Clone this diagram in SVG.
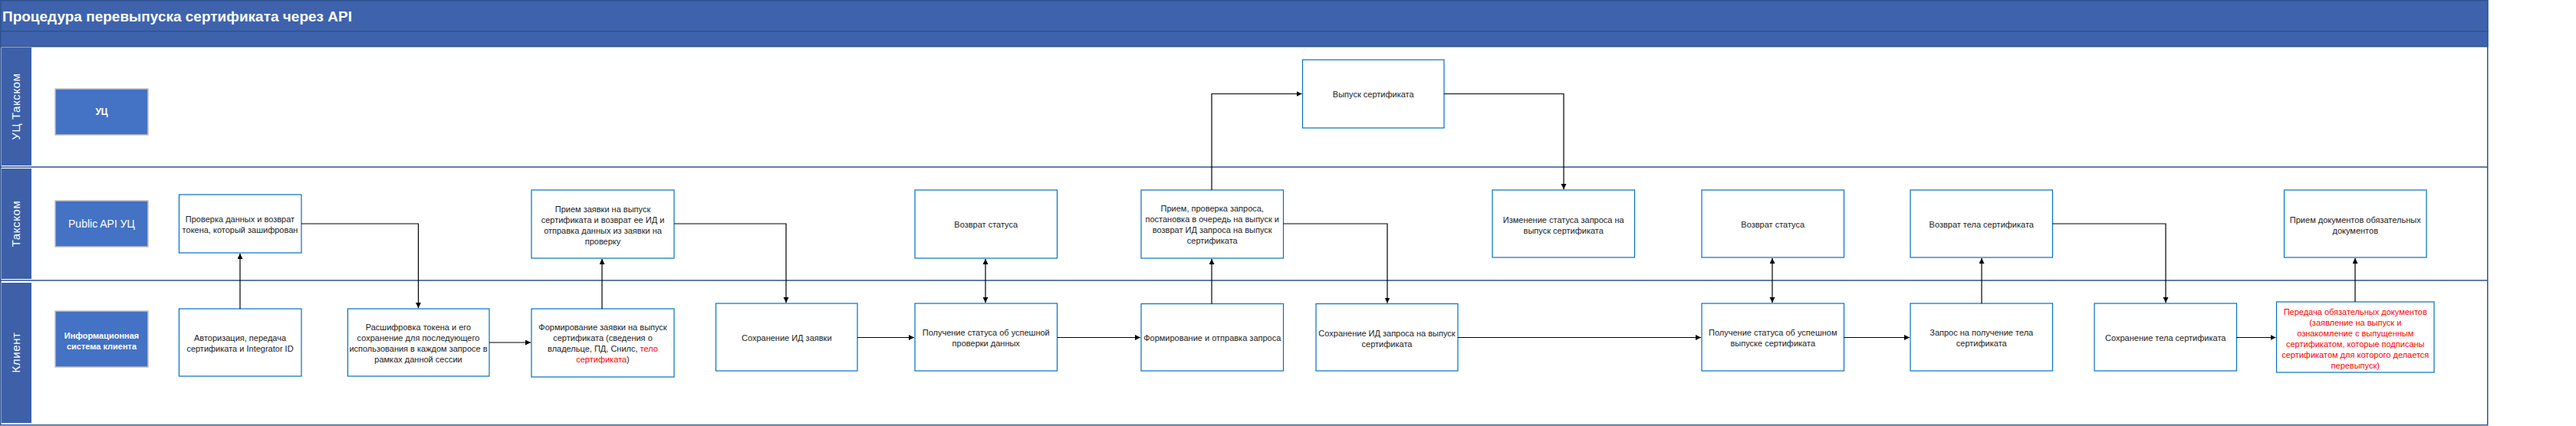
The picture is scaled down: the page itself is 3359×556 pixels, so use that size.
<svg xmlns="http://www.w3.org/2000/svg" width="3359" height="556" viewBox="0 0 3359 556">
<defs>
<style>
.hdr{fill:#3E63AC;stroke:#2F528F;stroke-width:1.5}
.lanelbl{fill:#3D60A9}
.lanetxt{font-family:'Liberation Sans',Arial,sans-serif;font-size:15px;fill:#fff;text-anchor:middle;letter-spacing:0.6px}
.role{fill:#4472C4;stroke:#BFBFBF;stroke-width:1.5}
.roletxt{font-family:'Liberation Sans',Arial,sans-serif;fill:#fff;text-anchor:middle}
.box{fill:#fff;stroke:#0070C0;stroke-width:1.2}
.t{font-family:'Liberation Sans',Arial,sans-serif;font-size:11px;fill:#222;text-anchor:middle}
.red{fill:#FF0000}
.lane{stroke:#2F528F;stroke-width:1.5;fill:none}
.c{fill:none;stroke:#000;stroke-width:1.2}
</style>
<marker id="ah" markerUnits="userSpaceOnUse" markerWidth="8" markerHeight="8" refX="7" refY="3.5" orient="auto-start-reverse">
<path d="M0,0 L7,3.5 L0,7 z" fill="#000"/>
</marker>
</defs>
<rect x="0" y="0" width="3359" height="556" fill="#fff"/>

<g id="pool">
<rect x="0.75" y="0.75" width="3243" height="554" fill="#fff" stroke="#2F528F" stroke-width="1.5"/>
<rect class="hdr" x="0.75" y="0.75" width="3243" height="40"/>
<rect class="hdr" x="0.75" y="40.75" width="3243" height="20"/>
<text x="3" y="28" font-family="'Liberation Sans',Arial,sans-serif" font-size="18" font-weight="bold" fill="#fff" textLength="456" lengthAdjust="spacingAndGlyphs">Процедура перевыпуска сертификата через API</text>
<line class="lane" x1="0" y1="218" x2="3244" y2="218"/>
<line class="lane" x1="0" y1="366" x2="3244" y2="366"/>
</g>

<g id="lane-uc">
<rect class="lanelbl" x="2" y="62" width="39" height="154"/>
<text class="lanetxt" transform="translate(26,139) rotate(-90)">УЦ Такском</text>
</g>
<g id="lane-taxcom">
<rect class="lanelbl" x="2" y="220" width="39" height="144"/>
<text class="lanetxt" transform="translate(26,292) rotate(-90)">Такском</text>
</g>
<g id="lane-client">
<rect class="lanelbl" x="2" y="369" width="39" height="183"/>
<text class="lanetxt" transform="translate(26,460) rotate(-90)">Клиент</text>
</g>

<g id="role-uc">
<rect class="role" x="72" y="116" width="121" height="60"/>
<text class="roletxt" x="132.5" y="150" font-size="12" font-weight="bold">УЦ</text>
</g>
<g id="role-api">
<rect class="role" x="72" y="262" width="121" height="60"/>
<text class="roletxt" x="132.5" y="297" font-size="14">Public API УЦ</text>
</g>
<g id="role-is">
<rect class="role" x="72" y="406" width="121" height="73"/>
<text class="roletxt" x="132.5" y="441.5" font-size="11" font-weight="bold">Информационная</text>
<text class="roletxt" x="132.5" y="455.5" font-size="11" font-weight="bold">система клиента</text>
</g>

<g id="n-check">
<rect class="box" x="233.5" y="254" width="159.5" height="76"/>
<text class="t" x="313" y="290">Проверка данных и возврат</text>
<text class="t" x="313" y="304">токена, который зашифрован</text>
</g>
<g id="n-auth">
<rect class="box" x="233.5" y="403" width="159.5" height="88"/>
<text class="t" x="313" y="445">Авторизация, передача</text>
<text class="t" x="313" y="459">сертификата и Integrator ID</text>
</g>
<g id="n-decrypt">
<rect class="box" x="453.5" y="403" width="184.5" height="88"/>
<text class="t" x="545.5" y="431">Расшифровка токена и его</text>
<text class="t" x="545.5" y="445">сохранение для последующего</text>
<text class="t" x="545.5" y="459">использования в каждом запросе в</text>
<text class="t" x="545.5" y="473">рамках данной сессии</text>
</g>
<g id="n-accept-app">
<rect class="box" x="693" y="248" width="186" height="89"/>
<text class="t" x="786" y="277">Прием заявки на выпуск</text>
<text class="t" x="786" y="291">сертификата и возврат ее ИД и</text>
<text class="t" x="786" y="305">отправка данных из заявки на</text>
<text class="t" x="786" y="319">проверку</text>
</g>
<g id="n-form-app">
<rect class="box" x="693" y="403" width="186" height="89"/>
<text class="t" x="786" y="431">Формирование заявки на выпуск</text>
<text class="t" x="786" y="445">сертификата (сведения о</text>
<text class="t" x="786" y="459">владельце, ПД, Снилс, <tspan class="red">тело</tspan></text>
<text class="t" x="786" y="473"><tspan class="red">сертификата</tspan>)</text>
</g>
<g id="n-save-app-id">
<rect class="box" x="933.5" y="396" width="184.5" height="88"/>
<text class="t" x="1025.75" y="445">Сохранение ИД заявки</text>
</g>
<g id="n-status1">
<rect class="box" x="1193" y="248" width="185.5" height="89"/>
<text class="t" x="1285.75" y="297">Возврат статуса</text>
</g>
<g id="n-get-status1">
<rect class="box" x="1193" y="396" width="185.5" height="88"/>
<text class="t" x="1285.75" y="438">Получение статуса об успешной</text>
<text class="t" x="1285.75" y="452">проверки данных</text>
</g>
<g id="n-issue">
<rect class="box" x="1698.5" y="78" width="184.5" height="89"/>
<text class="t" x="1790.75" y="127">Выпуск сертификата</text>
</g>
<g id="n-accept-req">
<rect class="box" x="1488" y="248" width="185.5" height="89"/>
<text class="t" x="1580.75" y="276">Прием, проверка запроса,</text>
<text class="t" x="1580.75" y="290">постановка в очередь на выпуск и</text>
<text class="t" x="1580.75" y="304">возврат ИД запроса на выпуск</text>
<text class="t" x="1580.75" y="318">сертификата</text>
</g>
<g id="n-form-req">
<rect class="box" x="1488" y="396.5" width="185.5" height="87.5"/>
<text class="t" x="1580.75" y="445">Формирование и отправка запроса</text>
</g>
<g id="n-save-req-id">
<rect class="box" x="1716" y="396.5" width="185" height="87.5"/>
<text class="t" x="1808.5" y="438.5">Сохранение ИД запроса на выпуск</text>
<text class="t" x="1808.5" y="452.5">сертификата</text>
</g>
<g id="n-change-status">
<rect class="box" x="1946" y="248" width="185.5" height="88"/>
<text class="t" x="2038.75" y="290.5">Изменение статуса запроса на</text>
<text class="t" x="2038.75" y="304.5">выпуск сертификата</text>
</g>
<g id="n-status2">
<rect class="box" x="2219" y="248" width="185.5" height="88"/>
<text class="t" x="2311.75" y="297">Возврат статуса</text>
</g>
<g id="n-get-status2">
<rect class="box" x="2219" y="396" width="185.5" height="88"/>
<text class="t" x="2311.75" y="438">Получение статуса об успешном</text>
<text class="t" x="2311.75" y="452">выпуске сертификата</text>
</g>
<g id="n-return-body">
<rect class="box" x="2491" y="248" width="185.5" height="88"/>
<text class="t" x="2583.75" y="297">Возврат тела сертификата</text>
</g>
<g id="n-req-body">
<rect class="box" x="2491" y="396" width="185.5" height="88"/>
<text class="t" x="2583.75" y="438">Запрос на получение тела</text>
<text class="t" x="2583.75" y="452">сертификата</text>
</g>
<g id="n-save-body">
<rect class="box" x="2731" y="396" width="185.5" height="88"/>
<text class="t" x="2823.75" y="445">Сохранение тела сертификата</text>
</g>
<g id="n-accept-docs">
<rect class="box" x="2978.5" y="248" width="185.5" height="88"/>
<text class="t" x="3071.25" y="290.5">Прием документов обязательных</text>
<text class="t" x="3071.25" y="304.5">документов</text>
</g>
<g id="n-send-docs">
<rect class="box" x="2968.5" y="394" width="205.5" height="92"/>
<text class="t red" x="3071.25" y="410.5">Передача обязательных документов</text>
<text class="t red" x="3071.25" y="424.5">(заявление на выпуск и</text>
<text class="t red" x="3071.25" y="438.5">ознакомление с выпущенным</text>
<text class="t red" x="3071.25" y="452.5">сертификатом, которые подписаны</text>
<text class="t red" x="3071.25" y="466.5">сертификатом для которого делается</text>
<text class="t red" x="3071.25" y="480.5">перевыпуск)</text>
</g>

<g id="connectors">
<path class="c" d="M313,403 V331" marker-end="url(#ah)"/>
<path class="c" d="M393,292 H545.5 V402" marker-end="url(#ah)"/>
<path class="c" d="M638,447 H692" marker-end="url(#ah)"/>
<path class="c" d="M785,403 V338" marker-end="url(#ah)"/>
<path class="c" d="M879,292 H1025 V395" marker-end="url(#ah)"/>
<path class="c" d="M1118,440.5 H1192" marker-end="url(#ah)"/>
<path class="c" d="M1285,338 V395" marker-start="url(#ah)" marker-end="url(#ah)"/>
<path class="c" d="M1379,440.5 H1487" marker-end="url(#ah)"/>
<path class="c" d="M1580,396.5 V338" marker-end="url(#ah)"/>
<path class="c" d="M1580,248 V122.5 H1697.5" marker-end="url(#ah)"/>
<path class="c" d="M1883,122.5 H2039 V247" marker-end="url(#ah)"/>
<path class="c" d="M1673.5,292 H1809 V395.5" marker-end="url(#ah)"/>
<path class="c" d="M1901,440.5 H2218" marker-end="url(#ah)"/>
<path class="c" d="M2311,337 V395" marker-start="url(#ah)" marker-end="url(#ah)"/>
<path class="c" d="M2404.5,440.5 H2490" marker-end="url(#ah)"/>
<path class="c" d="M2584,396 V337" marker-end="url(#ah)"/>
<path class="c" d="M2676.5,292 H2824 V395" marker-end="url(#ah)"/>
<path class="c" d="M2916.5,440.5 H2967.5" marker-end="url(#ah)"/>
<path class="c" d="M3071,394 V337" marker-end="url(#ah)"/>
</g>
</svg>
